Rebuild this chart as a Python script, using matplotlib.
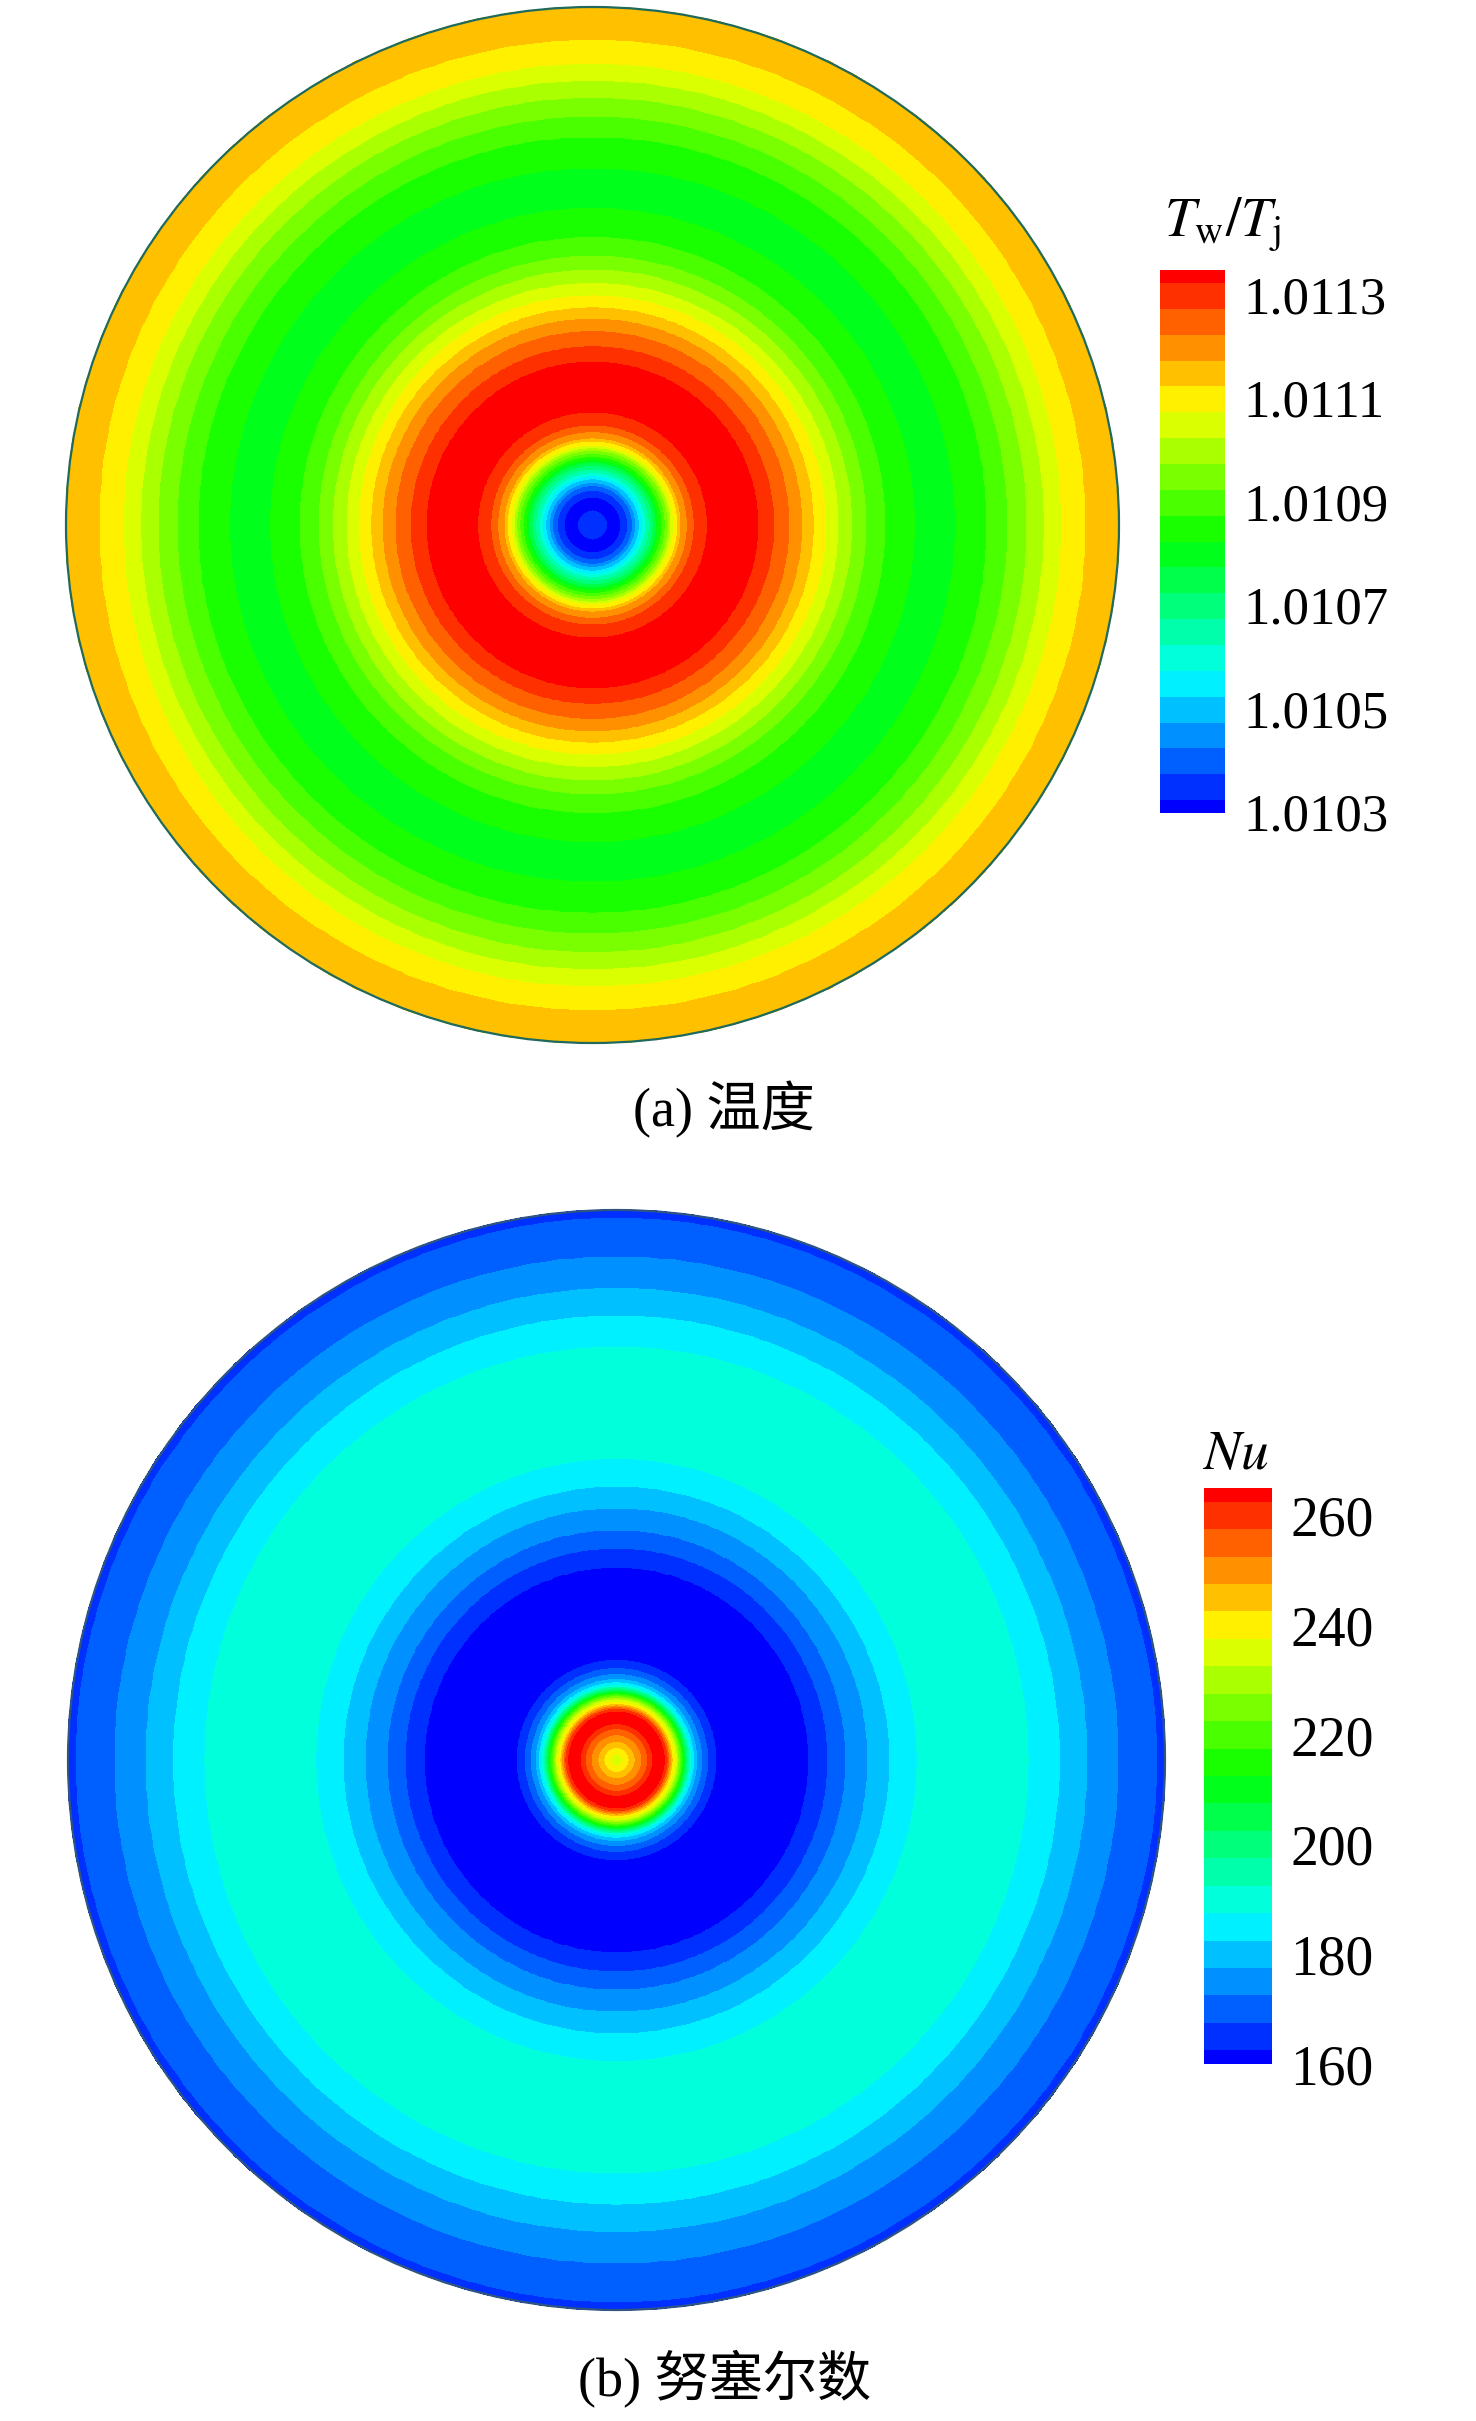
import numpy as np
import matplotlib
matplotlib.use("Agg")
import matplotlib.pyplot as plt
from matplotlib.colors import LinearSegmentedColormap, ListedColormap, BoundaryNorm
from matplotlib.patches import Circle
from matplotlib.transforms import ScaledTranslation
import matplotlib.colorbar as mcolorbar

plt.rcParams['font.family'] = ['Liberation Serif', 'Noto Sans CJK SC']
plt.rcParams['mathtext.fontset'] = 'stix'

# contour levels of the two legends
t_levels = np.linspace(1.0103, 1.0113, 21)
nu_levels = np.linspace(160, 260, 21)
t_ticks = [1.0103, 1.0105, 1.0107, 1.0109, 1.0111, 1.0113]
nu_ticks = [160, 180, 200, 220, 240, 260]

# temperature rings: outer radius (r/R) and the band value inside each ring
t_ring_edges = [0.030, 0.055, 0.068, 0.077, 0.083, 0.090, 0.096, 0.102, 0.109,
                0.116, 0.122, 0.127, 0.133, 0.139, 0.145, 0.150, 0.155, 0.163,
                0.169, 0.181, 0.194, 0.219, 0.317, 0.347, 0.376, 0.400, 0.422,
                0.445, 0.469, 0.495, 0.522, 0.558, 0.614, 0.690, 0.750, 0.790,
                0.826, 0.859, 0.892, 0.938, 1.000]
t_ring_values = [1.010325, 1.010275, 1.010325, 1.010375, 1.010425, 1.010475,
                 1.010525, 1.010575, 1.010625, 1.010675, 1.010725, 1.010775,
                 1.010825, 1.010875, 1.010925, 1.010975, 1.011025, 1.011075,
                 1.011125, 1.011175, 1.011225, 1.011275, 1.011325, 1.011275,
                 1.011225, 1.011175, 1.011125, 1.011075, 1.011025, 1.010975,
                 1.010925, 1.010875, 1.010825, 1.010775, 1.010825, 1.010875,
                 1.010925, 1.010975, 1.011025, 1.011075, 1.011125]

# Nusselt number rings
nu_ring_edges = [0.012, 0.024, 0.035, 0.047, 0.058, 0.067, 0.090, 0.095, 0.098,
                 0.101, 0.104, 0.108, 0.112, 0.115, 0.118, 0.121, 0.124, 0.126,
                 0.129, 0.132, 0.135, 0.138, 0.143, 0.149, 0.158, 0.169, 0.184,
                 0.351, 0.386, 0.419, 0.459, 0.499, 0.549, 0.753, 0.810, 0.860,
                 0.917, 0.987, 1.000]
nu_ring_values = [232.5, 237.5, 242.5, 247.5, 252.5, 257.5, 262.5, 257.5, 252.5,
                  247.5, 242.5, 237.5, 232.5, 227.5, 222.5, 217.5, 212.5, 207.5,
                  202.5, 197.5, 192.5, 187.5, 182.5, 177.5, 172.5, 167.5, 162.5,
                  157.5, 162.5, 167.5, 172.5, 177.5, 182.5, 187.5, 182.5, 177.5,
                  172.5, 167.5, 162.5]

W, H = 1476, 2421
fig = plt.figure(figsize=(W / 100, H / 100), dpi=100)

# tecplot "small rainbow", one colour per band (21 levels -> 22 bands)
base = LinearSegmentedColormap.from_list(
    'small_rainbow', ['#0000ff', '#00ffff', '#00ff00', '#ffff00', '#ff0000'])
cmap = ListedColormap([base(j / 21.0) for j in range(22)])


def px_rect(left, top, width, height):
    return [left / W, 1 - (top + height) / H, width / W, height / H]


def band_bounds(levels):
    step = levels[1] - levels[0]
    return np.concatenate([[levels[0] - step / 2], levels, [levels[-1] + step / 2]])


def draw_disc(rect, edges, values, levels, edge_color):
    ax = fig.add_axes(rect)
    r = np.concatenate([[0.0], edges])
    th = np.linspace(0, 2 * np.pi, 361)
    X = r[:, None] * np.cos(th)[None, :]
    Y = r[:, None] * np.sin(th)[None, :]
    C = np.repeat(np.array(values)[:, None], 360, axis=1)
    norm = BoundaryNorm(band_bounds(levels), cmap.N)
    ax.pcolormesh(X, Y, C, cmap=cmap, norm=norm, shading='flat',
                  antialiased=False, edgecolors='face', linewidth=0.3)
    ax.add_patch(Circle((0, 0), 1.0, fill=False, ec=edge_color, lw=1.6, clip_on=False))
    ax.set_xlim(-1, 1)
    ax.set_ylim(-1, 1)
    ax.set_aspect('auto')
    ax.axis('off')
    return ax


def draw_legend(rect, levels, ticks, fmt, dy, size):
    cax = fig.add_axes(rect)
    bounds = band_bounds(levels)
    norm = BoundaryNorm(bounds, cmap.N)
    cb = mcolorbar.ColorbarBase(cax, cmap=cmap, norm=norm, boundaries=bounds,
                                spacing='proportional', ticks=ticks,
                                orientation='vertical')
    cb.outline.set_visible(False)
    cb.ax.minorticks_off()
    cb.ax.tick_params(which='both', length=0, pad=13, labelsize=size)
    cb.ax.set_yticklabels([fmt % t for t in ticks])
    # tecplot puts the numbers a little below their level
    off = ScaledTranslation(0, -dy / 100, fig.dpi_scale_trans)
    for lbl in cb.ax.get_yticklabels():
        lbl.set_transform(lbl.get_transform() + off)
    return cb


# (a) temperature
draw_disc(px_rect(66, 7, 1053, 1036), t_ring_edges, t_ring_values, t_levels, '#1f6a5c')
draw_legend(px_rect(1160, 270, 65, 543), t_levels, t_ticks, '%.4f', 12, 38)
fig.text(1223 / W, 1 - 236 / H, r'$T_{\mathrm{w}}/T_{\mathrm{j}}$',
         ha='center', va='baseline', fontsize=40)
fig.text(724 / W, 1 - 1110 / H, '(a) 温度', ha='center', va='center', fontsize=39)

# (b) Nusselt number
draw_disc(px_rect(68, 1210, 1097, 1100), nu_ring_edges, nu_ring_values, nu_levels, '#2f5580')
draw_legend(px_rect(1204, 1488, 68, 576), nu_levels, nu_ticks, '%d', 14, 40)
fig.text(1235 / W, 1 - 1469 / H, r'$Nu$', ha='center', va='baseline', fontsize=40)
fig.text(725 / W, 1 - 2378 / H, '(b) 努塞尔数', ha='center', va='center', fontsize=39)

fig.savefig('out.png', dpi=100)
